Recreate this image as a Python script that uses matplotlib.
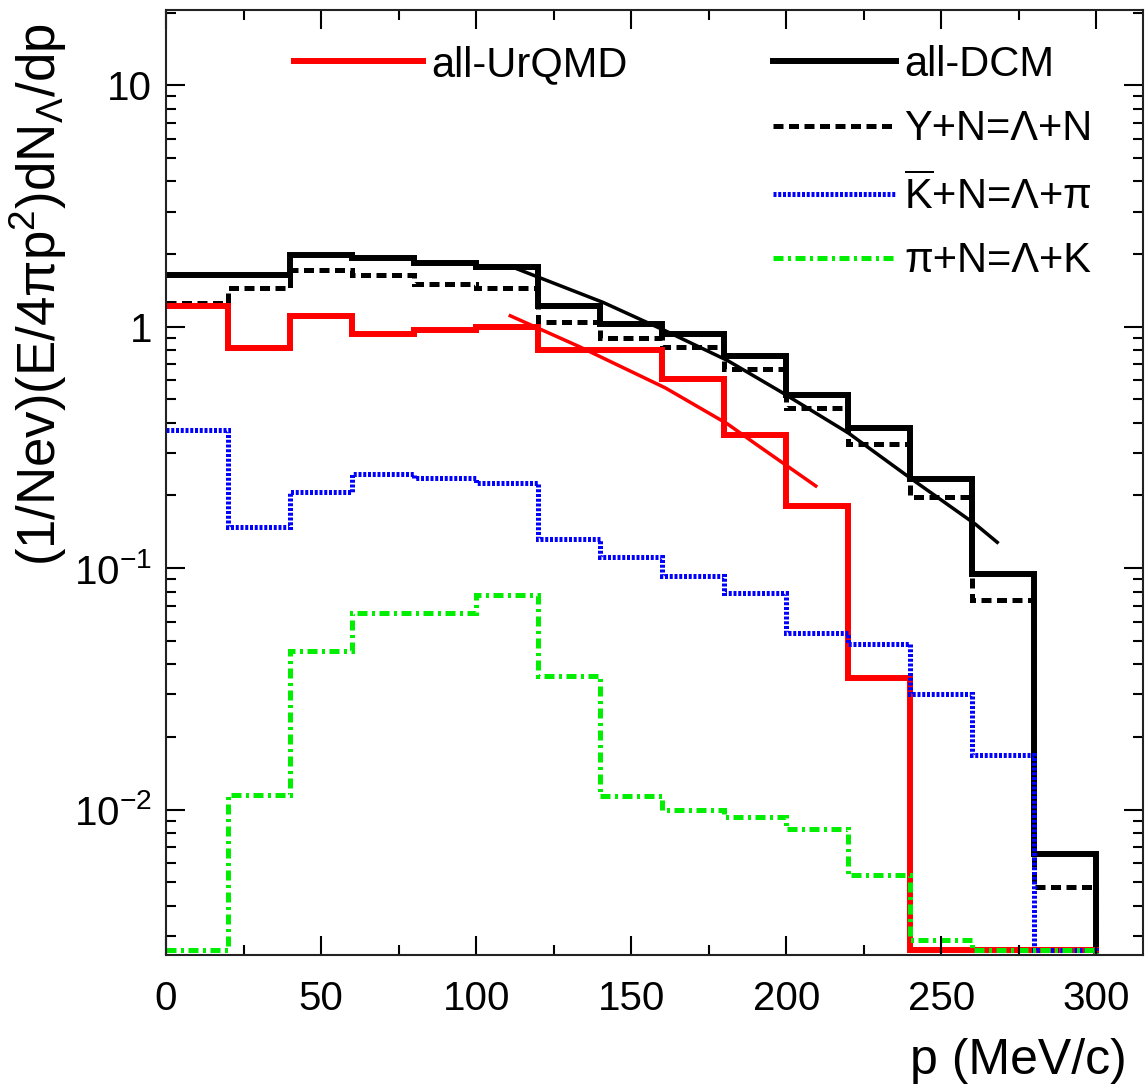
import numpy as np
import matplotlib
matplotlib.use('Agg')
import matplotlib.pyplot as plt
from matplotlib.lines import Line2D
from matplotlib.ticker import MultipleLocator, LogLocator, NullFormatter

plt.rcParams['font.family'] = ['Liberation Sans', 'DejaVu Sans']
plt.rcParams['mathtext.fontset'] = 'custom'
plt.rcParams['mathtext.rm'] = 'Liberation Sans'
plt.rcParams['mathtext.it'] = 'Liberation Sans:italic'
plt.rcParams['mathtext.bf'] = 'Liberation Sans:bold'

# momentum bins, MeV/c
p_edges = np.arange(0, 320, 20)

# Lambda spectra, one value per 20 MeV/c bin (0 = empty bin)
all_urqmd = [1.22, 0.818, 1.11, 0.935, 0.972, 1.00, 0.803, 0.803, 0.608, 0.356, 0.181, 0.035, 0, 0, 0]
all_dcm = [1.63, 1.63, 1.99, 1.93, 1.83, 1.76, 1.22, 1.03, 0.935, 0.758, 0.522, 0.381, 0.234, 0.0944, 0.00657]
yn_dcm = [1.25, 1.45, 1.72, 1.63, 1.51, 1.44, 1.05, 0.90, 0.826, 0.670, 0.461, 0.327, 0.197, 0.0736, 0.00479]
kbarn_dcm = [0.374, 0.148, 0.207, 0.245, 0.236, 0.225, 0.132, 0.111, 0.0927, 0.0788, 0.0537, 0.0484, 0.030, 0.0169, 0]
pin_dcm = [0, 0.0115, 0.0453, 0.0651, 0.0651, 0.0773, 0.0356, 0.0114, 0.0100, 0.00935, 0.00834, 0.00537, 0.00289, 0, 0]

# fitted curves
fit_dcm_p = [113, 141, 161, 181, 198, 220, 240, 261, 268]
fit_dcm_y = [1.74, 1.26, 0.962, 0.725, 0.540, 0.363, 0.236, 0.152, 0.128]
fit_urqmd_p = [111, 133, 161, 181, 191, 209.5]
fit_urqmd_y = [1.11, 0.83, 0.558, 0.396, 0.321, 0.219]

labels = ['all-UrQMD', 'all-DCM', 'Y+N=Λ+N', r'$\overline{\mathrm{K}}$+N=Λ+π', 'π+N=Λ+K']

ymin, ymax = 0.0025, 20.5

def hist_line(v):
    # empty bins sit on the bottom of the log axis (as in ROOT);
    # one extra bin below the frame gives the final drop at 300
    v = np.asarray(v, dtype=float)
    v = np.where(v > 0, v, ymin * 1.045)
    return np.append(v, ymin / 10), np.append(p_edges, p_edges[-1] + 20)

W, H = 1148, 1087
fig = plt.figure(figsize=(W / 100, H / 100), dpi=100)
ax = fig.add_axes([166 / W, 132 / H, (1143 - 166) / W, (955 - 10) / H])

st_red = dict(color='red', lw=4.3, ls='-')
st_blk = dict(color='black', lw=4.3, ls='-')
st_dash = dict(color='black', lw=3.6, ls=(0, (2.0, 1.1)))
st_blue = dict(color='blue', lw=3.6, ls=(0, (0.6, 0.35)))
st_green = dict(color='#00ee00', lw=3.6, ls=(0, (2.0, 0.9, 0.6, 0.9)))

for series, st in [(all_dcm, st_blk), (yn_dcm, st_dash), (all_urqmd, st_red),
                   (kbarn_dcm, st_blue), (pin_dcm, st_green)]:
    vals, edges = hist_line(series)
    ax.stairs(vals, edges, baseline=None, **st)

ax.plot(fit_dcm_p, fit_dcm_y, color='black', lw=2.5)
ax.plot(fit_urqmd_p, fit_urqmd_y, color='red', lw=2.5)

ax.set_xlim(0, 315)
ax.set_yscale('log')
ax.set_ylim(ymin, ymax)

ax.xaxis.set_major_locator(MultipleLocator(50))
ax.xaxis.set_minor_locator(MultipleLocator(25))
ax.set_yticks([0.01, 0.1, 1, 10], labels=[r'$10^{-2}$', r'$10^{-1}$', '1', '10'])
ax.yaxis.set_minor_locator(LogLocator(base=10, subs=np.arange(2, 10) * 1.0, numticks=20))
ax.yaxis.set_minor_formatter(NullFormatter())

ax.tick_params(which='both', direction='in', top=True, right=True, width=1.5, labelsize=29)
ax.tick_params(which='major', length=14)
ax.tick_params(which='minor', length=7)
ax.tick_params(axis='x', pad=18)
ax.tick_params(axis='y', pad=10)
for s in ax.spines.values():
    s.set_linewidth(1.5)
    s.set_color('#222222')

ax.set_xlabel('p (MeV/c)', fontsize=36, loc='right')
ax.xaxis.set_label_coords(0.983, -0.088)
ax.set_ylabel(r'(1/Nev)(E/4πp$^{2}$)dN$_{\Lambda}$/dp', fontsize=38, loc='top')
ax.yaxis.set_label_coords(-0.099, 0.986)

h_red = Line2D([], [], **st_red)
leg1 = ax.legend([h_red], labels[:1], loc='upper left', bbox_to_anchor=(294 / W, 1 - 45 / H),
                 bbox_transform=fig.transFigure, frameon=False, fontsize=30,
                 handlelength=3.1, handletextpad=0.2, borderpad=0, borderaxespad=0)
ax.add_artist(leg1)
hs = [Line2D([], [], **st_blk), Line2D([], [], **st_dash),
      Line2D([], [], **st_blue), Line2D([], [], **st_green)]
ax.legend(hs, labels[1:], loc='upper left', bbox_to_anchor=(773 / W, 1 - 45 / H),
          bbox_transform=fig.transFigure, frameon=False, fontsize=30,
          handlelength=2.95, handletextpad=0.2, borderpad=0, borderaxespad=0,
          labelspacing=0.58)

fig.savefig('out.png', dpi=100)
